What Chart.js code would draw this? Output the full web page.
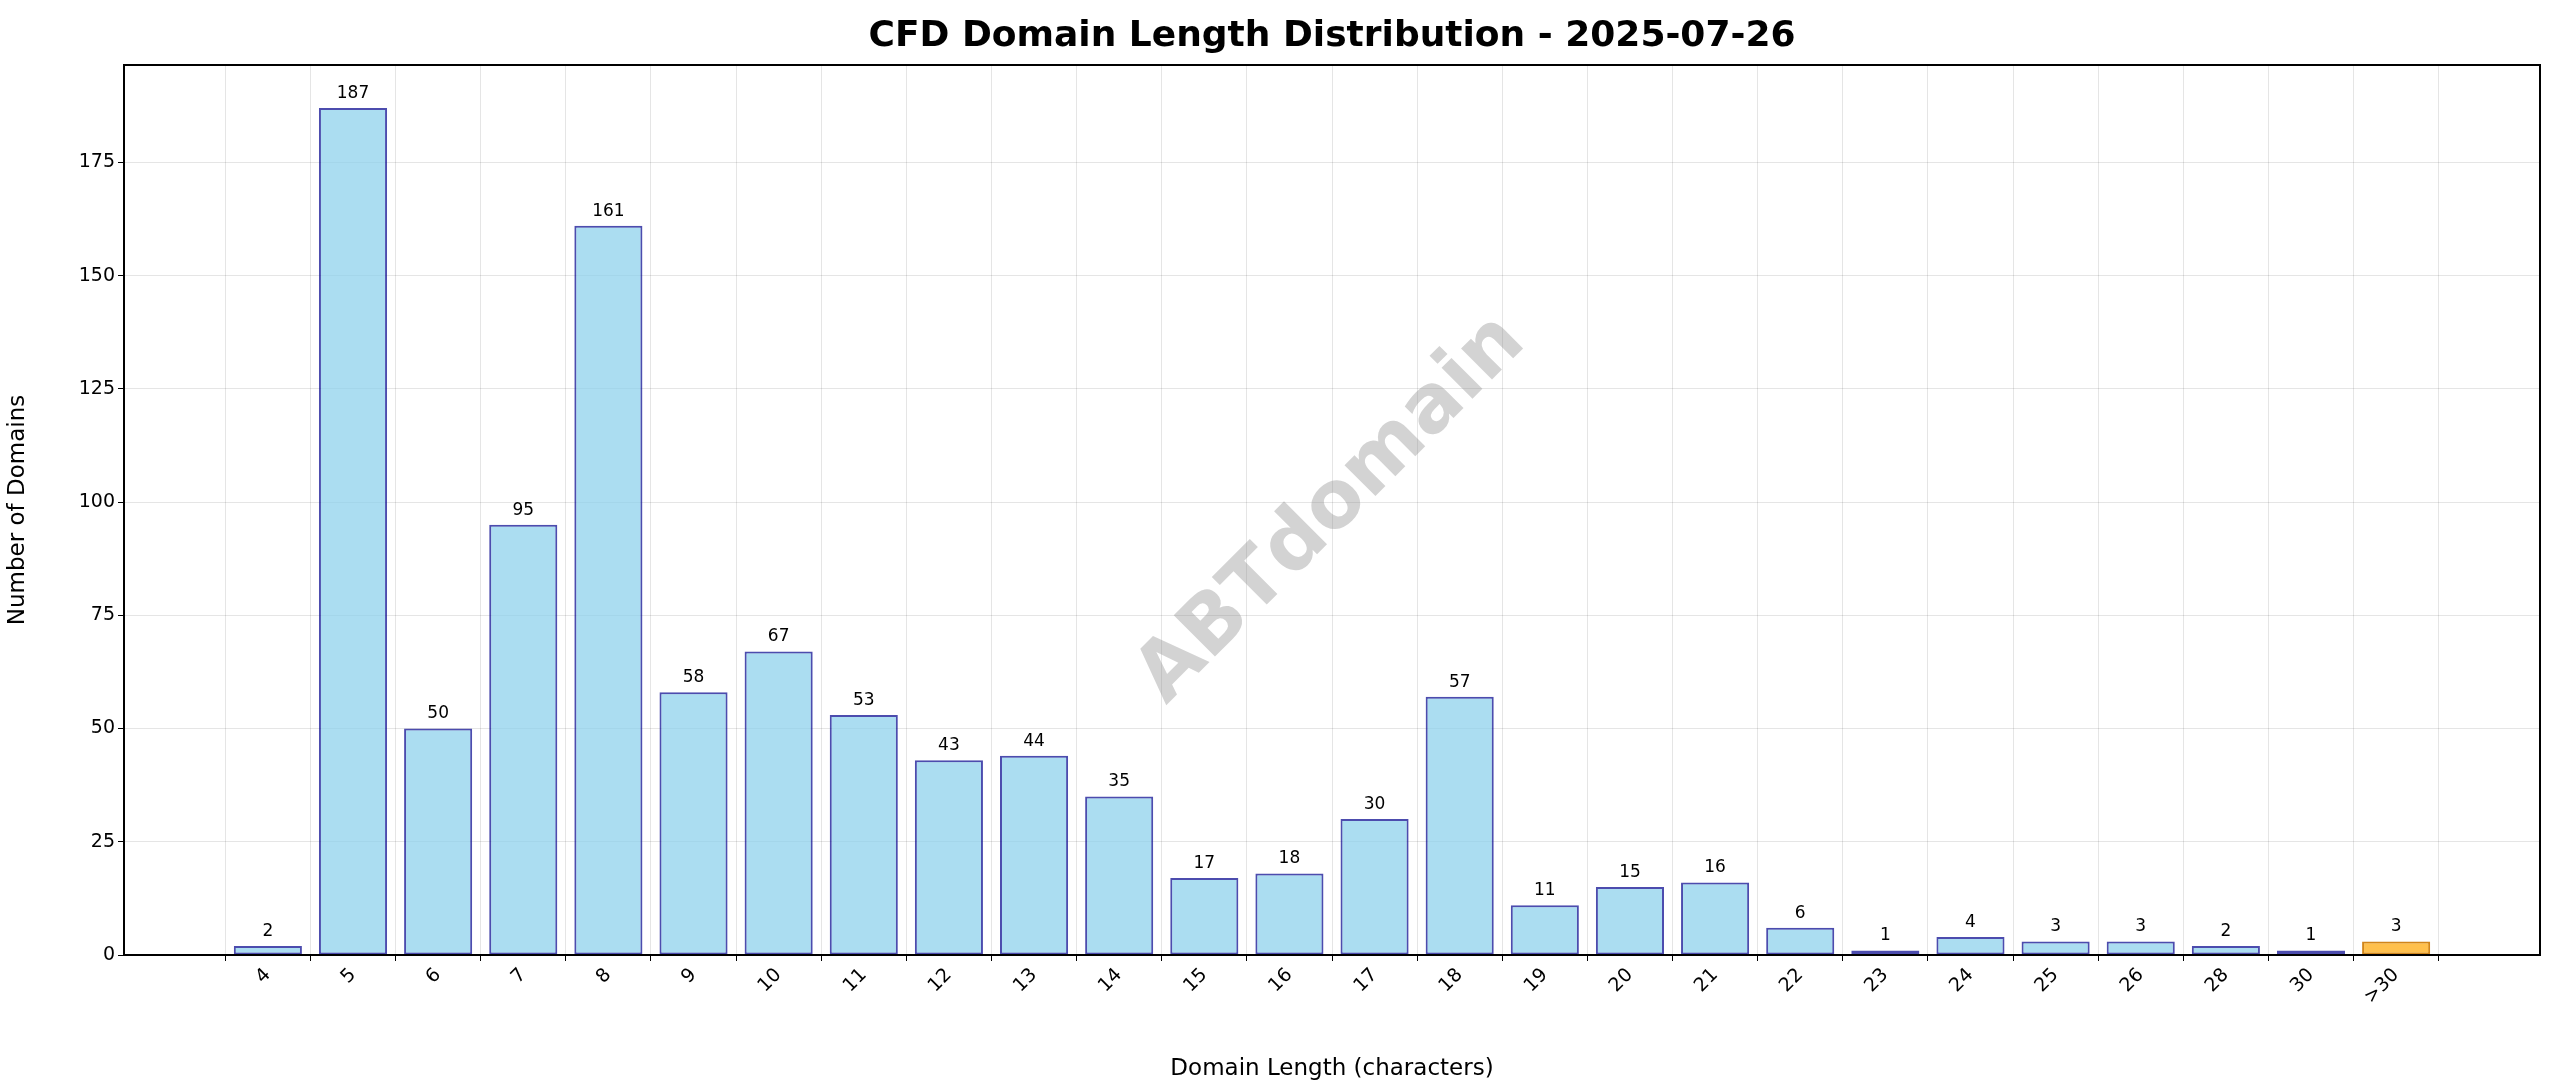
<!DOCTYPE html>
<html>
<head>
<meta charset="utf-8">
<script src="https://cdn.jsdelivr.net/npm/chart.js@4/dist/chart.umd.min.js"></script>
<style>
  html, body { margin: 0; padding: 0; background: #fff; }
  #wrap { width: 2560px; height: 1087px; }
</style>
</head>
<body>
<div id="wrap"><canvas id="chart"></canvas></div>
<script>
// data
const lengthLabels = ['4','5','6','7','8','9','10','11','12','13','14','15','16','17','18','19','20','21','22','23','24','25','26','28','30','>30'];
const domainCounts = [2,187,50,95,161,58,67,53,43,44,35,17,18,30,57,11,15,16,6,1,4,3,3,2,1,3];
const yTicks = [0,25,50,75,100,125,150,175];

const FONT = "'DejaVu Sans', sans-serif";

const barColors = lengthLabels.map(l => l === '>30' ? 'rgba(255,165,0,0.7)' : 'rgba(135,206,235,0.7)');
const edgeColors = lengthLabels.map(l => l === '>30' ? 'rgba(204,120,0,0.9)' : 'rgba(0,0,139,0.7)');

// frame, title, value labels, watermark
const extras = {
  id: 'extras',
  afterDatasetsDraw(chart) {
    const ctx = chart.ctx;
    const a = chart.chartArea;
    const meta = chart.getDatasetMeta(0);
    ctx.save();
    ctx.fillStyle = '#000';
    ctx.font = '17px ' + FONT;
    ctx.textAlign = 'center';
    ctx.textBaseline = 'bottom';
    meta.data.forEach((bar, i) => {
      ctx.fillText(String(domainCounts[i]), bar.x, bar.y - 6);
    });

    // watermark
    ctx.translate((a.left + a.right) / 2, (a.top + a.bottom) / 2);
    ctx.rotate(-Math.PI / 4);
    ctx.font = 'bold 80px ' + FONT;
    ctx.fillStyle = 'rgba(128,128,128,0.35)';
    ctx.textBaseline = 'middle';
    ctx.fillText('ABTdomain', 0, 0);
    ctx.restore();

    ctx.save();
    ctx.strokeStyle = '#000';
    ctx.lineWidth = 2;
    ctx.strokeRect(a.left, a.top, a.right - a.left, a.bottom - a.top);
    ctx.font = 'bold 36px ' + FONT;
    ctx.fillStyle = '#000';
    ctx.textAlign = 'center';
    ctx.textBaseline = 'bottom';
    ctx.fillText('CFD Domain Length Distribution - 2025-07-26', (a.left + a.right) / 2, a.top - 10);
    ctx.restore();
  }
};

new Chart(document.getElementById('chart'), {
  type: 'bar',
  data: {
    datasets: [{
      data: domainCounts.map((v, i) => ({ x: i, y: v })),
      backgroundColor: barColors,
      borderColor: edgeColors,
      borderWidth: 2,
      borderSkipped: false,
      barPercentage: 0.8,
      categoryPercentage: 1.0
    }]
  },
  options: {
    responsive: true,
    maintainAspectRatio: false,
    animation: false,
    layout: { padding: { top: 65, right: 20, left: 0, bottom: 0 } },
    plugins: { legend: { display: false }, tooltip: { enabled: false } },
    scales: {
      x: {
        type: 'linear',
        min: -1.69,
        max: 26.69,
        offset: false,
        afterBuildTicks: s => { s.ticks = lengthLabels.map((l, i) => ({ value: i })); },
        afterFit: s => { s.height = 132; },
        ticks: {
          callback: v => lengthLabels[v],
          maxRotation: 45, minRotation: 45,
          color: '#000',
          font: { family: FONT, size: 19 }
        },
        grid: { color: 'rgba(0,0,0,0.1)', drawTicks: true, tickColor: '#000', tickLength: 6 },
        border: { display: false },
        title: { display: true, text: 'Domain Length (characters)', color: '#000', font: { family: FONT, size: 23 }, padding: { top: 14 } }
      },
      y: {
        min: 0,
        max: 196.5,
        afterBuildTicks: s => { s.ticks = yTicks.map(v => ({ value: v })); },
        afterFit: s => { s.width = 124; },
        ticks: { color: '#000', font: { family: FONT, size: 19 } },
        grid: { color: 'rgba(0,0,0,0.1)', tickColor: '#000', tickLength: 6 },
        border: { display: false },
        title: { display: true, text: 'Number of Domains', color: '#000', font: { family: FONT, size: 23 } }
      }
    }
  },
  plugins: [extras]
});
</script>
</body>
</html>
